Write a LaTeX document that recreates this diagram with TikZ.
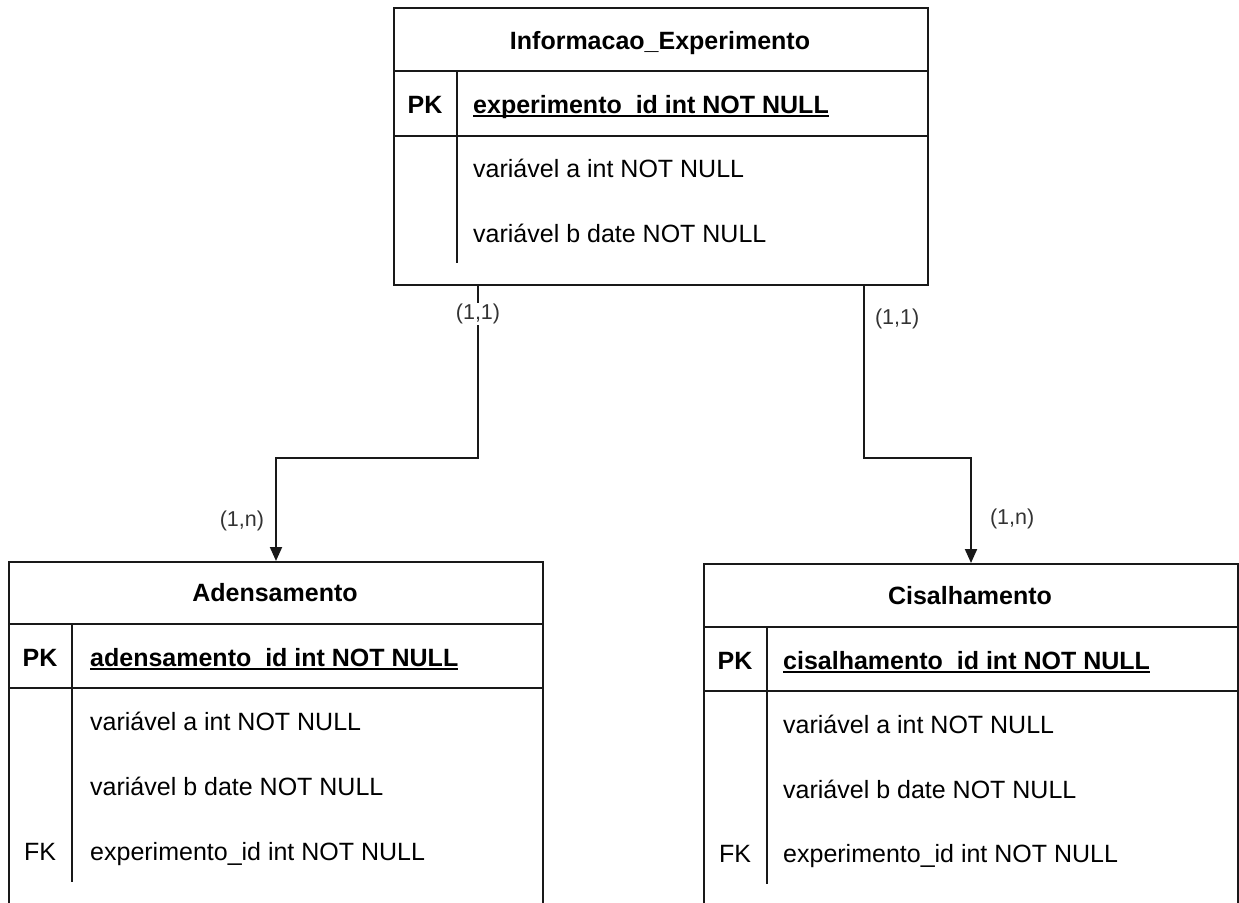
\documentclass[tikz,border=0pt]{standalone}
\usepackage{fontspec}
\setmainfont{Liberation Sans}
\usetikzlibrary{arrows.meta}
% underline drawn as a rule just below the baseline
\newcommand\pkul[1]{\setbox0\hbox{#1}\rlap{\rule[-3.5pt]{\wd0}{1.6pt}}\box0}
\begin{document}
\begin{tikzpicture}[x=1pt,y=-1pt,
  tblframe/.style={draw=black!90, line width=2pt, inner sep=0pt, anchor=north west, fill=white},
  tblrule/.style={draw=black!90, line width=2pt},
  tbltitle/.style={font=\fontsize{25}{30}\selectfont\bfseries, inner sep=0pt, text height=18pt, text depth=0pt},
  keycell/.style={font=\fontsize{25}{30}\selectfont, inner sep=0pt, text height=18pt, text depth=0pt},
  pkcell/.style={keycell, font=\fontsize{25}{30}\selectfont\bfseries},
  fieldtxt/.style={font=\fontsize{25}{30}\selectfont, anchor=west, inner sep=0pt, text height=18pt, text depth=0pt},
  pkfield/.style={fieldtxt, font=\fontsize{25}{30}\selectfont\bfseries},
  cardlbl/.style={font=\fontsize{21.5}{26}\selectfont, text=black!80, inner sep=1pt},
  conn/.style={draw=black!90, line width=2pt, -{Triangle[length=14pt,width=12pt]}}
]
\useasboundingbox (0,0) rectangle (1239,902);
\clip (0,0) rectangle (1239,902);

% ---- Informacao_Experimento ----
\node[tblframe, minimum width=534pt, minimum height=277pt] (info) at (393,7) {};
\draw[tblrule] (393,71) -- (927,71);
\draw[tblrule] (393,136) -- (927,136);
\draw[tblrule] (457,71) -- (457,263);
\node[tbltitle] (infoT) at (660,40) {Informacao\_Experimento};
\node[pkcell] (infoPK) at (425,104) {PK};
\node[pkfield] (infoF1) at (473,104) {\pkul{experimento\_id int NOT NULL}};
\node[fieldtxt] (infoF2) at (473,168) {variável a int NOT NULL};
\node[fieldtxt] (infoF3) at (473,233) {variável b date NOT NULL};

% ---- Adensamento ----
\node[tblframe, minimum width=534pt, minimum height=342pt] (adens) at (8,561) {};
\draw[tblrule] (8,624) -- (542,624);
\draw[tblrule] (8,688) -- (542,688);
\draw[tblrule] (72,624) -- (72,882);
\node[tbltitle] (adensT) at (275,592) {Adensamento};
\node[pkcell] (adensPK) at (40,657) {PK};
\node[pkfield] (adensF1) at (90,657) {\pkul{adensamento\_id int NOT NULL}};
\node[fieldtxt] (adensF2) at (90,721) {variável a int NOT NULL};
\node[fieldtxt] (adensF3) at (90,786) {variável b date NOT NULL};
\node[keycell] (adensFK) at (40,851) {FK};
\node[fieldtxt] (adensF4) at (90,851) {experimento\_id int NOT NULL};

% ---- Cisalhamento ----
\node[tblframe, minimum width=534pt, minimum height=340pt] (cis) at (703,563) {};
\draw[tblrule] (703,627) -- (1237,627);
\draw[tblrule] (703,691) -- (1237,691);
\draw[tblrule] (767,627) -- (767,884);
\node[tbltitle] (cisT) at (970,595) {Cisalhamento};
\node[pkcell] (cisPK) at (735,660) {PK};
\node[pkfield] (cisF1) at (783,660) {\pkul{cisalhamento\_id int NOT NULL}};
\node[fieldtxt] (cisF2) at (783,724) {variável a int NOT NULL};
\node[fieldtxt] (cisF3) at (783,789) {variável b date NOT NULL};
\node[keycell] (cisFK) at (735,853) {FK};
\node[fieldtxt] (cisF4) at (783,853) {experimento\_id int NOT NULL};

% ---- relationships ----
\path (info.south west) ++(85,0) coordinate (s1);
\path (info.south east) ++(-65,0) coordinate (s2);
\draw[conn] (s1) -- node[cardlbl, fill=white, pos=0.165] (c11a) {(1,1)} ++(0,172)
  -| node[cardlbl, pos=0.805, anchor=east, xshift=-10pt] (c1na) {(1,n)} (adens.north);
\draw[conn] (s2) -- node[cardlbl, pos=0.19, anchor=west, xshift=9pt] (c11b) {(1,1)} ++(0,172)
  -| node[cardlbl, pos=0.79, anchor=west, xshift=17pt] (c1nb) {(1,n)} (cis.north);
\end{tikzpicture}
\end{document}
